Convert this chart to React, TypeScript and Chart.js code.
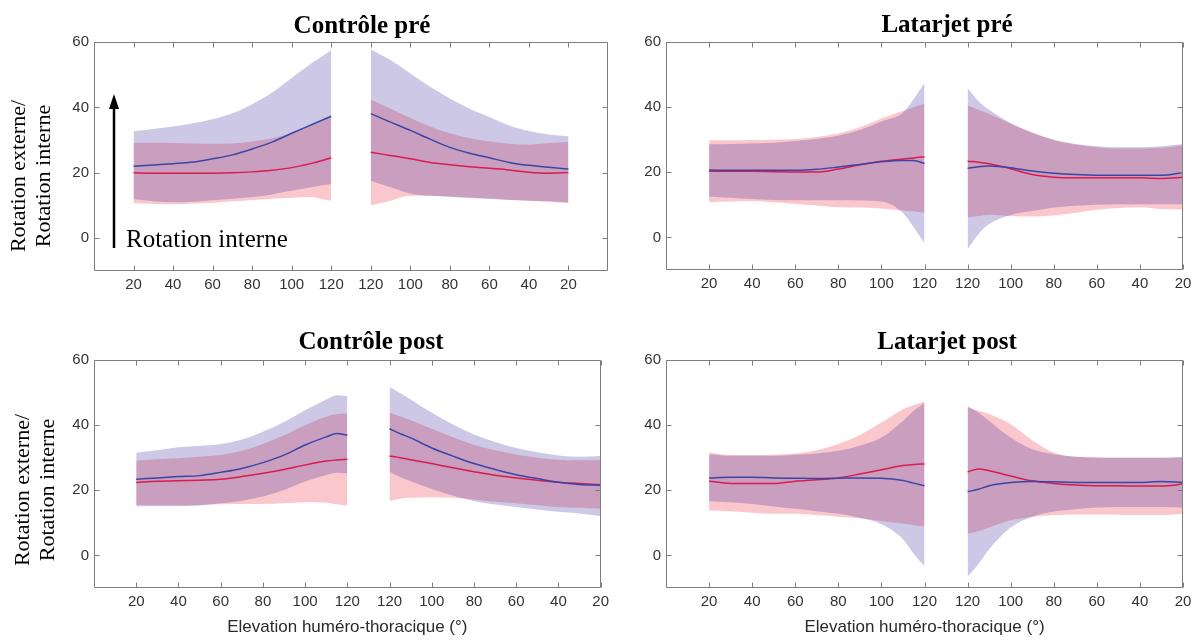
import React, { useEffect, useRef } from 'react';
import { Chart, registerables } from 'chart.js';

Chart.register(...registerables);

// ---------- axis definitions ----------
const RISE_DEG = [20, 30, 40, 50, 60, 70, 80, 90, 100, 110, 115, 120];
const FALL_DEG = [120, 115, 110, 100, 90, 80, 70, 60, 50, 40, 30, 20];
const X_TICK_LABELS = ['', '20', '40', '60', '80', '100', '120', '120', '100', '80', '60', '40', '20', ''];
const Y_TICKS = [0, 20, 40, 60];

// ---------- Contrôle pré ----------
const CPRE_B_UP_R = [32.7, 33.4, 34.2, 35.2, 36.4, 38.2, 41.0, 44.5, 49.0, 53.5, 55.5, 57.5];
const CPRE_B_MEAN_R = [22.0, 22.4, 22.8, 23.3, 24.3, 25.5, 27.3, 29.4, 32.1, 34.7, 36.0, 37.3];
const CPRE_B_LO_R = [12.0, 11.3, 11.0, 11.2, 11.6, 12.1, 12.6, 13.4, 14.5, 15.6, 16.1, 16.6];
const CPRE_R_UP_R = [29.2, 29.2, 29.1, 29.0, 28.9, 29.0, 29.6, 30.6, 32.2, 34.5, 35.8, 37.3];
const CPRE_R_MEAN_R = [20.0, 19.9, 19.9, 19.9, 19.9, 20.0, 20.3, 20.8, 21.6, 22.9, 23.7, 24.6];
const CPRE_R_LO_R = [10.7, 10.5, 10.4, 10.6, 10.9, 11.3, 11.7, 12.1, 12.4, 12.6, 12.0, 11.5];
const CPRE_B_UP_F = [57.7, 56.1, 54.5, 50.4, 46.3, 42.7, 39.6, 37.1, 34.5, 32.8, 31.7, 31.2];
const CPRE_B_MEAN_F = [38.1, 36.8, 35.5, 33.0, 30.3, 27.8, 26.0, 24.6, 23.2, 22.3, 21.7, 21.2];
const CPRE_B_LO_F = [17.6, 16.6, 15.6, 13.7, 13.0, 12.7, 12.3, 12.0, 11.7, 11.5, 11.3, 11.0];
const CPRE_R_UP_F = [42.4, 41.0, 39.6, 36.8, 34.2, 32.1, 30.6, 29.6, 28.9, 28.6, 29.1, 29.4];
const CPRE_R_MEAN_F = [26.3, 25.8, 25.3, 24.3, 23.2, 22.5, 21.9, 21.4, 20.9, 20.2, 19.9, 20.1];
const CPRE_R_LO_F = [10.1, 10.8, 11.5, 13.0, 13.0, 12.8, 12.5, 12.2, 11.8, 11.5, 11.2, 10.7];

// ---------- Latarjet pré ----------
const LPRE_B_UP_R = [28.6, 28.7, 28.8, 29.1, 29.6, 30.2, 31.2, 33.0, 35.6, 38.3, 42.5, 47.4];
const LPRE_B_MEAN_R = [20.7, 20.6, 20.6, 20.6, 20.6, 20.9, 21.6, 22.4, 23.2, 23.6, 23.6, 22.7];
const LPRE_B_LO_R = [12.6, 12.2, 11.8, 11.5, 11.4, 11.4, 11.4, 11.3, 11.0, 7.5, 3.1, -1.8];
const LPRE_R_UP_R = [29.8, 29.8, 29.9, 30.0, 30.2, 30.8, 31.9, 33.8, 36.5, 38.8, 40.0, 41.0];
const LPRE_R_MEAN_R = [20.3, 20.3, 20.3, 20.2, 20.1, 20.1, 21.0, 22.3, 23.4, 24.1, 24.4, 24.8];
const LPRE_R_LO_R = [10.8, 11.0, 11.2, 10.8, 10.3, 9.8, 9.3, 9.2, 8.9, 8.3, 8.0, 7.6];
const LPRE_B_UP_F = [45.8, 41.8, 39.2, 35.1, 32.1, 30.0, 28.7, 28.0, 27.7, 27.7, 28.0, 28.7];
const LPRE_B_MEAN_F = [21.2, 21.7, 21.9, 21.4, 20.4, 19.7, 19.3, 19.1, 19.1, 19.1, 19.1, 19.9];
const LPRE_B_LO_F = [-3.6, 1.0, 4.1, 6.9, 8.1, 9.2, 9.7, 10.0, 10.2, 10.2, 10.2, 10.2];
const LPRE_R_UP_F = [40.5, 39.2, 37.9, 34.9, 32.2, 29.9, 28.5, 27.7, 27.3, 27.3, 27.5, 28.3];
const LPRE_R_MEAN_F = [23.4, 23.1, 22.6, 21.1, 19.3, 18.5, 18.3, 18.3, 18.3, 18.3, 18.1, 18.5];
const LPRE_R_LO_F = [6.1, 6.6, 7.0, 6.6, 6.4, 6.8, 7.6, 8.5, 9.0, 9.3, 8.7, 8.6];

// ---------- Contrôle post ----------
const CPOST_B_UP_R = [31.5, 32.3, 33.2, 33.6, 34.2, 35.6, 38.0, 41.0, 44.6, 47.9, 49.2, 48.9];
const CPOST_B_MEAN_R = [23.4, 23.8, 24.2, 24.5, 25.5, 26.7, 28.5, 30.8, 33.9, 36.4, 37.4, 36.9];
const CPOST_B_LO_R = [15.1, 15.1, 15.1, 15.3, 16.0, 16.8, 18.1, 20.1, 22.7, 24.7, 25.4, 25.2];
const CPOST_R_UP_R = [29.1, 29.5, 29.8, 30.3, 30.8, 32.1, 34.2, 36.9, 40.0, 42.6, 43.4, 43.6];
const CPOST_R_MEAN_R = [22.4, 22.8, 22.9, 23.1, 23.4, 24.2, 25.2, 26.4, 27.8, 29.0, 29.3, 29.5];
const CPOST_R_LO_R = [15.5, 15.4, 15.4, 15.5, 15.7, 15.8, 15.8, 16.0, 16.3, 16.2, 15.7, 15.3];
const CPOST_B_UP_F = [51.7, 49.9, 47.9, 43.8, 40.2, 37.1, 34.8, 33.0, 31.7, 30.7, 30.3, 30.5];
const CPOST_B_MEAN_F = [38.9, 37.4, 36.1, 33.0, 30.5, 28.2, 26.4, 24.8, 23.6, 22.5, 21.8, 21.5];
const CPOST_B_LO_F = [25.6, 24.1, 22.8, 20.4, 18.4, 16.7, 15.6, 14.9, 14.1, 13.4, 12.9, 12.1];
const CPOST_R_UP_F = [43.8, 42.7, 41.5, 38.9, 36.3, 34.0, 32.3, 31.0, 30.0, 29.4, 29.2, 29.2];
const CPOST_R_MEAN_F = [30.5, 30.0, 29.4, 28.2, 26.9, 25.7, 24.6, 23.8, 23.1, 22.5, 22.1, 21.7];
const CPOST_R_LO_F = [16.7, 17.4, 17.7, 17.9, 17.7, 17.2, 16.5, 16.0, 15.4, 14.9, 14.6, 14.3];

// ---------- Latarjet post ----------
const LPOST_B_UP_R = [31.1, 30.6, 30.6, 30.6, 30.9, 31.3, 32.1, 33.7, 36.2, 41.3, 44.4, 46.9];
const LPOST_B_MEAN_R = [23.8, 24.0, 24.0, 23.8, 23.7, 23.6, 23.7, 23.8, 23.7, 23.0, 22.2, 21.4];
const LPOST_B_LO_R = [16.6, 16.3, 15.8, 15.0, 14.3, 13.6, 12.8, 11.6, 9.6, 5.0, 0.5, -3.4];
const LPOST_R_UP_R = [31.6, 30.8, 30.8, 30.9, 31.3, 32.3, 34.2, 37.0, 40.8, 44.9, 46.2, 47.2];
const LPOST_R_MEAN_R = [22.8, 22.1, 22.1, 22.1, 22.8, 23.2, 23.8, 25.0, 26.3, 27.6, 27.9, 28.1];
const LPOST_R_LO_R = [13.8, 13.6, 13.1, 12.8, 12.8, 12.4, 11.9, 11.4, 10.6, 9.8, 9.3, 8.9];
const LPOST_B_UP_F = [45.9, 43.9, 41.3, 36.2, 32.6, 31.1, 30.3, 30.1, 30.1, 30.1, 30.1, 30.3];
const LPOST_B_MEAN_F = [19.6, 20.3, 21.4, 22.4, 22.7, 22.6, 22.4, 22.4, 22.4, 22.4, 22.7, 22.4];
const LPOST_B_LO_F = [-6.5, -2.7, 1.9, 8.6, 11.9, 13.5, 14.2, 14.7, 14.9, 14.9, 14.9, 14.7];
const LPOST_R_UP_F = [45.4, 44.4, 43.4, 40.3, 35.4, 31.6, 30.3, 30.1, 29.9, 29.9, 29.9, 30.1];
const LPOST_R_MEAN_F = [25.7, 26.5, 26.0, 24.4, 22.9, 22.1, 21.6, 21.4, 21.4, 21.3, 21.3, 21.9];
const LPOST_R_LO_F = [6.7, 7.4, 8.6, 10.8, 11.8, 12.4, 12.6, 12.6, 12.5, 12.4, 12.4, 12.8];

// ---------- texts ----------
const TITLES = ['Contrôle pré', 'Latarjet pré', 'Contrôle post', 'Latarjet post'];
const Y_TITLE = ['Rotation externe/', 'Rotation interne'];
const ARROW_TEXT = 'Rotation interne';
const X_TITLE = 'Elevation huméro-thoracique (°)';

// ---------- styles ----------
const BLUE_BAND = 'rgba(52,36,152,0.25)';
const RED_BAND = 'rgba(245,148,158,0.52)';
const BLUE_LINE = '#3a46a6';
const RED_LINE = '#d91c50';
const AXIS_COLOR = '#7d7d7d';
const TICK_TEXT = '#333333';
const SANS = "'Liberation Sans', Arial, sans-serif";
const SERIF = "'Liberation Serif', 'Times New Roman', serif";

type Group = { up: number[]; mean: number[]; lo: number[] };
type PanelData = { riseBlue: Group; riseRed: Group; fallBlue: Group; fallRed: Group };

const PANEL_DATA: PanelData[] = [
  {
    riseBlue: { up: CPRE_B_UP_R, mean: CPRE_B_MEAN_R, lo: CPRE_B_LO_R },
    riseRed: { up: CPRE_R_UP_R, mean: CPRE_R_MEAN_R, lo: CPRE_R_LO_R },
    fallBlue: { up: CPRE_B_UP_F, mean: CPRE_B_MEAN_F, lo: CPRE_B_LO_F },
    fallRed: { up: CPRE_R_UP_F, mean: CPRE_R_MEAN_F, lo: CPRE_R_LO_F },
  },
  {
    riseBlue: { up: LPRE_B_UP_R, mean: LPRE_B_MEAN_R, lo: LPRE_B_LO_R },
    riseRed: { up: LPRE_R_UP_R, mean: LPRE_R_MEAN_R, lo: LPRE_R_LO_R },
    fallBlue: { up: LPRE_B_UP_F, mean: LPRE_B_MEAN_F, lo: LPRE_B_LO_F },
    fallRed: { up: LPRE_R_UP_F, mean: LPRE_R_MEAN_F, lo: LPRE_R_LO_F },
  },
  {
    riseBlue: { up: CPOST_B_UP_R, mean: CPOST_B_MEAN_R, lo: CPOST_B_LO_R },
    riseRed: { up: CPOST_R_UP_R, mean: CPOST_R_MEAN_R, lo: CPOST_R_LO_R },
    fallBlue: { up: CPOST_B_UP_F, mean: CPOST_B_MEAN_F, lo: CPOST_B_LO_F },
    fallRed: { up: CPOST_R_UP_F, mean: CPOST_R_MEAN_F, lo: CPOST_R_LO_F },
  },
  {
    riseBlue: { up: LPOST_B_UP_R, mean: LPOST_B_MEAN_R, lo: LPOST_B_LO_R },
    riseRed: { up: LPOST_R_UP_R, mean: LPOST_R_MEAN_R, lo: LPOST_R_LO_R },
    fallBlue: { up: LPOST_B_UP_F, mean: LPOST_B_MEAN_F, lo: LPOST_B_LO_F },
    fallRed: { up: LPOST_R_UP_F, mean: LPOST_R_MEAN_F, lo: LPOST_R_LO_F },
  },
];

// layout of the four panels (page pixels)
type PanelLayout = {
  left: number; top: number; width: number; height: number;
  yWidth: number; padTop: number; padRight: number; xHeight: number; xMax: number;
  titleX: number; titleY: number; yTitle?: { x1: number; x2: number; y: number };
  arrow?: boolean; xTitle?: boolean;
};

const LAYOUTS: PanelLayout[] = [
  { left: 0, top: 0, width: 612, height: 310, yWidth: 94, padTop: 42, padRight: 4, xHeight: 39, xMax: 13,
    titleX: 362, titleY: 33, yTitle: { x1: 19, x2: 44, y: 176 }, arrow: true },
  { left: 610, top: 0, width: 588, height: 310, yWidth: 56, padTop: 42, padRight: 15, xHeight: 40, xMax: 12,
    titleX: 337, titleY: 32 },
  { left: 0, top: 310, width: 614, height: 331, yWidth: 94, padTop: 50, padRight: 5, xHeight: 53, xMax: 12,
    titleX: 371, titleY: 39, yTitle: { x1: 23, x2: 48, y: 180 }, xTitle: true },
  { left: 610, top: 310, width: 588, height: 331, yWidth: 56, padTop: 50, padRight: 15, xHeight: 53, xMax: 12,
    titleX: 337, titleY: 39, xTitle: true },
];

const risePos = (d: number) => d / 20;
const fallPos = (d: number) => 7 + (120 - d) / 20;

function pts(deg: number[], vals: number[], pos: (d: number) => number) {
  return deg.map((d, i) => ({ x: pos(d), y: vals[i] }));
}

function buildDatasets(p: PanelData) {
  const ds: any[] = [];
  const common = { pointRadius: 0, cubicInterpolationMode: 'monotone' };
  const band = (g: Group, deg: number[], pos: (d: number) => number, color: string, order: number) => {
    ds.push({ ...common, data: pts(deg, g.up, pos), borderWidth: 0, fill: false, order });
    ds.push({ ...common, data: pts(deg, g.lo, pos), borderWidth: 0, fill: '-1', backgroundColor: color, order });
  };
  const line = (g: Group, deg: number[], pos: (d: number) => number, color: string, order: number) => {
    ds.push({ ...common, data: pts(deg, g.mean, pos), borderWidth: 1.5, borderColor: color, fill: false, order });
  };
  band(p.riseRed, RISE_DEG, risePos, RED_BAND, 40);
  band(p.fallRed, FALL_DEG, fallPos, RED_BAND, 40);
  band(p.riseBlue, RISE_DEG, risePos, BLUE_BAND, 30);
  band(p.fallBlue, FALL_DEG, fallPos, BLUE_BAND, 30);
  line(p.riseRed, RISE_DEG, risePos, RED_LINE, 20);
  line(p.fallRed, FALL_DEG, fallPos, RED_LINE, 20);
  line(p.riseBlue, RISE_DEG, risePos, BLUE_LINE, 10);
  line(p.fallBlue, FALL_DEG, fallPos, BLUE_LINE, 10);
  return ds;
}

const decorPlugin = {
  id: 'decor',
  afterDraw(chart: any, _args: any, opts: any) {
    const { ctx, chartArea: a, scales } = chart;
    const L: PanelLayout = opts.layout;
    ctx.save();
    // box
    ctx.strokeStyle = AXIS_COLOR;
    ctx.lineWidth = 1;
    const l = Math.round(a.left) + 0.5, r = Math.round(a.right) - 0.5;
    const t = Math.round(a.top) + 0.5, b = Math.round(a.bottom) - 0.5;
    ctx.beginPath();
    ctx.rect(l, t, r - l, b - t);
    ctx.stroke();
    // inner ticks
    const tl = 5;
    ctx.beginPath();
    for (const tk of scales.x.ticks) {
      const px = Math.round(scales.x.getPixelForValue(tk.value)) + 0.5;
      ctx.moveTo(px, b); ctx.lineTo(px, b - tl);
      ctx.moveTo(px, t); ctx.lineTo(px, t + tl);
    }
    for (const tk of scales.y.ticks) {
      const py = Math.round(scales.y.getPixelForValue(tk.value)) + 0.5;
      ctx.moveTo(l, py); ctx.lineTo(l + tl, py);
      ctx.moveTo(r, py); ctx.lineTo(r - tl, py);
    }
    ctx.stroke();
    // panel title
    ctx.fillStyle = '#000';
    ctx.font = `bold 25px ${SERIF}`;
    ctx.textAlign = 'center';
    ctx.textBaseline = 'alphabetic';
    ctx.fillText(opts.title, L.titleX, L.titleY);
    // y title
    if (L.yTitle) {
      ctx.font = `22px ${SERIF}`;
      ctx.textBaseline = 'middle';
      const xs = [L.yTitle.x1, L.yTitle.x2];
      Y_TITLE.forEach((txt, i) => {
        ctx.save();
        ctx.translate(xs[i], L.yTitle!.y);
        ctx.rotate(-Math.PI / 2);
        ctx.fillText(txt, 0, 0);
        ctx.restore();
      });
    }
    // arrow annotation
    if (L.arrow) {
      const ax = 114, y0 = 248, y1 = 94;
      ctx.strokeStyle = '#000';
      ctx.lineWidth = 2.5;
      ctx.beginPath();
      ctx.moveTo(ax, y0); ctx.lineTo(ax, y1 + 12);
      ctx.stroke();
      ctx.beginPath();
      ctx.moveTo(ax, y1); ctx.lineTo(ax - 5, y1 + 15); ctx.lineTo(ax + 5, y1 + 15); ctx.closePath();
      ctx.fillStyle = '#000';
      ctx.fill();
      ctx.font = `25px ${SERIF}`;
      ctx.textAlign = 'left';
      ctx.textBaseline = 'alphabetic';
      ctx.fillText(ARROW_TEXT, 126, 247);
    }
    ctx.restore();
  },
};

function Panel({ idx }: { idx: number }) {
  const ref = useRef<HTMLCanvasElement | null>(null);
  const L = LAYOUTS[idx];
  useEffect(() => {
    if (!ref.current) return;
    const tickPos = X_TICK_LABELS.map((s, i) => (s ? i : -1)).filter((i) => i >= 0);
    const chart = new Chart(ref.current, {
      type: 'line',
      data: { datasets: buildDatasets(PANEL_DATA[idx]) },
      options: {
        animation: false,
        responsive: false,
        devicePixelRatio: 1,
        layout: { padding: { left: 0, top: L.padTop, right: L.padRight, bottom: 0 } },
        plugins: {
          legend: { display: false },
          tooltip: { enabled: false },
          decor: { layout: L, title: TITLES[idx] },
        } as any,
        scales: {
          x: {
            type: 'linear',
            min: 0,
            max: L.xMax,
            grid: { display: false, drawTicks: false },
            border: { display: false },
            afterBuildTicks: (s: any) => { s.ticks = tickPos.map((v) => ({ value: v })); },
            afterFit: (s: any) => { s.height = L.xHeight; },
            ticks: {
              autoSkip: false,
              maxRotation: 0,
              padding: 5,
              color: TICK_TEXT,
              font: { family: SANS, size: 15 },
              callback: (v: any) => X_TICK_LABELS[v] ?? '',
            },
            title: {
              display: !!L.xTitle,
              text: X_TITLE,
              color: '#2a2a2a',
              font: { family: SANS, size: 17 },
              padding: { top: 0, bottom: 3 },
            },
          },
          y: {
            type: 'linear',
            min: -10,
            max: 60,
            grid: { display: false, drawTicks: false },
            border: { display: false },
            afterBuildTicks: (s: any) => { s.ticks = Y_TICKS.map((v) => ({ value: v })); },
            afterFit: (s: any) => { s.width = L.yWidth; },
            ticks: {
              padding: 5,
              color: TICK_TEXT,
              font: { family: SANS, size: 15 },
            },
          },
        },
      } as any,
      plugins: [decorPlugin as any],
    });
    return () => chart.destroy();
  }, [idx]);
  return (
    <div style={{ position: 'absolute', left: L.left, top: L.top, width: L.width, height: L.height }}>
      <canvas ref={ref} width={L.width} height={L.height} style={{ width: L.width, height: L.height, display: 'block' }} />
    </div>
  );
}

export default function App() {
  return (
    <div style={{ position: 'fixed', left: 0, top: 0, width: 1198, height: 641, background: '#fff', overflow: 'hidden' }}>
      {[0, 1, 2, 3].map((i) => (
        <Panel key={i} idx={i} />
      ))}
    </div>
  );
}
